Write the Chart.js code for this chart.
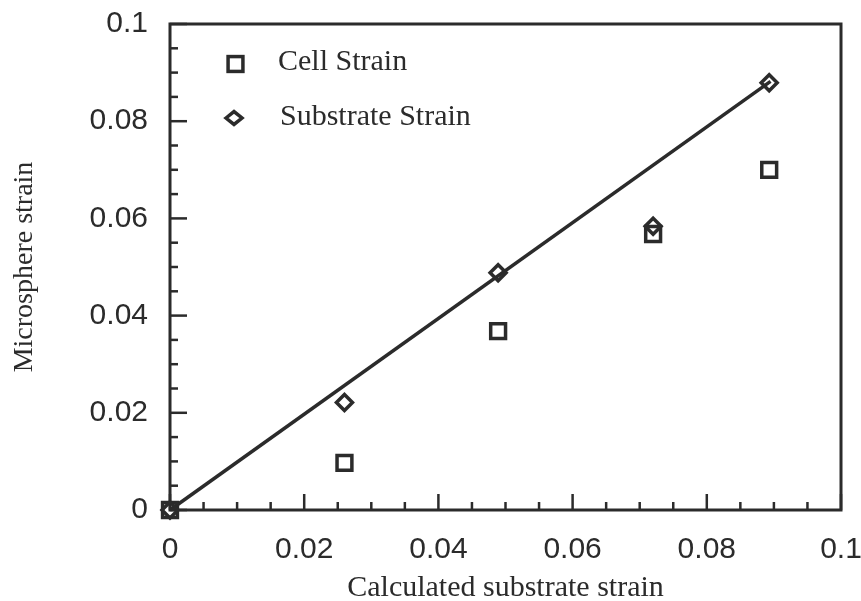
<!DOCTYPE html>
<html><head><meta charset="utf-8">
<script src="https://cdn.jsdelivr.net/npm/chart.js@4/dist/chart.umd.min.js"></script>
<style>html,body{margin:0;padding:0;background:#fff}#wrap{width:861px;height:601px}</style>
</head><body><div id="wrap"><canvas id="c" width="861" height="601"></canvas></div>
<script>
// ---- data ----
const xValues = [0, 0.026, 0.0489, 0.072, 0.0893];
const cellStrain = [0, 0.0097, 0.0368, 0.0568, 0.0700];
const substrateStrain = [0, 0.0221, 0.0488, 0.0584, 0.0879];
const fitX = [0, 0.0895];
const fitY = [0, 0.0882];
const xTickLabels = ['0', '0.02', '0.04', '0.06', '0.08', '0.1'];
const yTickLabels = ['0', '0.02', '0.04', '0.06', '0.08', '0.1'];
const seriesNames = ['Cell Strain', 'Substrate Strain'];
const xTitle = 'Calculated substrate strain';
const yTitle = 'Microsphere strain';

const INK = '#2b2b2b';
const SANS = '"Liberation Sans", Arial, sans-serif';
const SERIF = '"Liberation Serif", "Times New Roman", serif';

function majorLabel(v, labels) {
  const k = v / 0.02, r = Math.round(k);
  return Math.abs(k - r) < 1e-6 ? labels[r] : '';
}

const framePlugin = {
  id: 'frameTicks',
  beforeDatasetsDraw(chart) {
    const {ctx, chartArea: a, scales} = chart;
    ctx.save();
    ctx.strokeStyle = INK;
    ctx.lineWidth = 2.5;
    ctx.lineCap = 'butt';
    scales.x.ticks.forEach(t => {
      const px = scales.x.getPixelForValue(t.value);
      const len = majorLabel(t.value, xTickLabels) !== '' ? 16 : 8;
      ctx.beginPath(); ctx.moveTo(px, a.bottom); ctx.lineTo(px, a.bottom - len); ctx.stroke();
    });
    scales.y.ticks.forEach(t => {
      const py = scales.y.getPixelForValue(t.value);
      const len = majorLabel(t.value, yTickLabels) !== '' ? 17 : 8;
      ctx.beginPath(); ctx.moveTo(a.left, py); ctx.lineTo(a.left + len, py); ctx.stroke();
    });
    ctx.lineWidth = 3;
    ctx.strokeRect(a.left, a.top, a.right - a.left, a.bottom - a.top);
    ctx.restore();
  },
  afterDraw(chart) {
    const {ctx, chartArea: a} = chart;
    const ds = chart.data.datasets;
    ctx.save();
    ctx.strokeStyle = INK;
    ctx.fillStyle = INK;
    ctx.lineWidth = 3.5;
    const r1 = ds[1].pointRadius, s = r1 * Math.SQRT1_2;
    const cx1 = a.left + 65.5, cy1 = a.top + 40;
    ctx.strokeRect(cx1 - s, cy1 - s, 2 * s, 2 * s);
    const r2 = ds[2].pointRadius;
    const cx2 = a.left + 64, cy2 = a.top + 94;
    ctx.beginPath();
    ctx.moveTo(cx2 - r2, cy2); ctx.lineTo(cx2, cy2 - r2 * 0.8); ctx.lineTo(cx2 + r2, cy2); ctx.lineTo(cx2, cy2 + r2 * 0.8); ctx.closePath();
    ctx.stroke();
    ctx.font = '30px ' + SERIF;
    ctx.textBaseline = 'alphabetic';
    ctx.textAlign = 'left';
    ctx.fillText(ds[1].label, a.left + 108, a.top + 46);
    ctx.fillText(ds[2].label, a.left + 110, a.top + 101);
    ctx.restore();
  }
};

new Chart(document.getElementById('c').getContext('2d'), {
  type: 'scatter',
  data: {
    datasets: [
      {
        type: 'line', label: 'fit',
        data: fitX.map((x, i) => ({x, y: fitY[i]})),
        borderColor: INK, borderWidth: 3.5, pointRadius: 0, fill: false, order: 3, clip: false
      },
      {
        label: seriesNames[0],
        data: xValues.map((x, i) => ({x, y: cellStrain[i]})),
        pointStyle: 'rect', pointRadius: 10.5, pointBorderWidth: 3.5,
        borderColor: INK, backgroundColor: 'rgba(0,0,0,0)', order: 2, clip: false
      },
      {
        label: seriesNames[1],
        data: xValues.map((x, i) => ({x, y: substrateStrain[i]})),
        pointStyle: 'rectRot', pointRadius: 8, pointBorderWidth: 3.5,
        borderColor: INK, backgroundColor: 'rgba(0,0,0,0)', order: 1, clip: false
      }
    ]
  },
  options: {
    responsive: false, animation: false, devicePixelRatio: 1,
    layout: {padding: {top: 24, right: 20, left: 0, bottom: 0}},
    plugins: {legend: {display: false}, tooltip: {enabled: false}},
    scales: {
      x: {
        type: 'linear', min: 0, max: 0.1,
        afterFit(s) { s.height = 91; s.paddingLeft = 0; s.paddingRight = 0; },
        grid: {display: false, drawTicks: false},
        border: {display: false},
        ticks: {
          stepSize: 0.005, maxTicksLimit: 40, autoSkip: false, maxRotation: 0, minRotation: 0,
          padding: 22, color: INK, font: {family: SANS, size: 30},
          callback: v => majorLabel(v, xTickLabels)
        },
        title: {display: true, text: xTitle, color: INK,
          font: {family: SERIF, size: 30, lineHeight: 1.2}, padding: {top: 0, bottom: -5}}
      },
      y: {
        type: 'linear', min: 0, max: 0.1,
        afterFit(s) { s.width = 170; s.paddingTop = 0; s.paddingBottom = 0; },
        grid: {display: false, drawTicks: false},
        border: {display: false},
        ticks: {
          stepSize: 0.005, maxTicksLimit: 40, autoSkip: false,
          padding: 22, color: INK, font: {family: SANS, size: 30},
          callback: v => majorLabel(v, yTickLabels)
        },
        title: {display: true, text: yTitle, color: INK,
          font: {family: SERIF, size: 28, lineHeight: 1.2}, padding: {top: 8, bottom: 0}}
      }
    }
  },
  plugins: [framePlugin]
});
</script>
</body></html>
